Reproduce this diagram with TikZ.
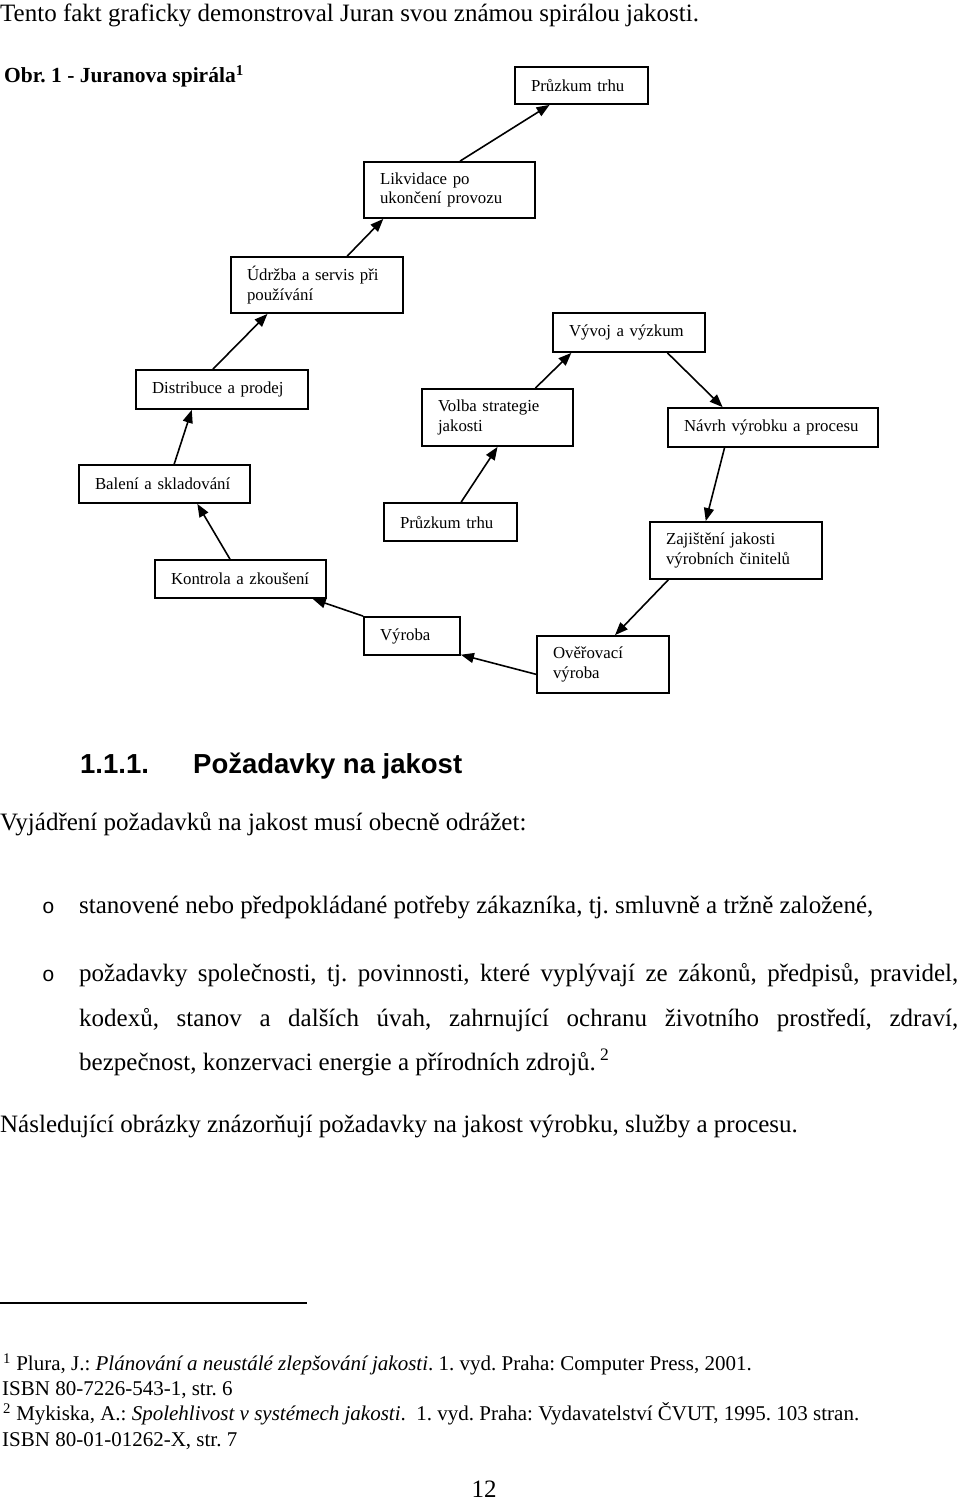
\documentclass[tikz,border=0pt]{standalone}
\usepackage{fontspec}
\setmainfont{Liberation Serif}
\newfontfamily\headfont{Liberation Sans}
\newfontfamily\bulletfont{Liberation Mono}
\usetikzlibrary{arrows.meta,calc}
\frenchspacing
\tikzset{
  box/.style={draw, line width=1.8pt, rectangle, inner xsep=16pt, inner ysep=0pt,
    align=left, font=\fontsize{16.8}{19.5}\selectfont, anchor=center},
  flow/.style={line width=1.6pt, -{Triangle[length=13pt,width=10pt]}},
  body/.style={anchor=base west, inner sep=0pt, font=\frenchspacing\fontsize{25}{30}\selectfont},
  foot/.style={anchor=base west, inner sep=0pt, font=\frenchspacing\fontsize{21}{25}\selectfont},
  bul/.style={anchor=base west, inner sep=0pt, font=\bulletfont\fontsize{21}{25}\selectfont},
}
\begin{document}
\begin{tikzpicture}[x=1pt,y=-1pt]
\useasboundingbox (0,0) rectangle (960,1503);
\fill[white] (0,0) rectangle (960,1503);

% text above diagram
\node[body] (l1) at (0,22) {Tento fakt graficky demonstroval Juran svou známou spirálou jakosti.};
\node[body, font=\frenchspacing\bfseries\fontsize{21.5}{26}\selectfont] (obr) at (4,83) {Obr. 1 - Juranova spirála\textsuperscript{1}};

% boxes
\node[box, minimum width=133pt, minimum height=37pt, text width=101pt] (pt1) at (581.5,85.5) {Průzkum trhu};
\node[box, minimum width=171pt, minimum height=56pt, text width=139pt] (lik) at (449.5,190) {Likvidace po\\ukončení provozu};
\node[box, minimum width=172pt, minimum height=56pt, text width=140pt] (udr) at (317,285) {Údržba a servis při\\používání};
\node[box, minimum width=152pt, minimum height=39pt, text width=120pt] (vyv) at (629,332.5) {Vývoj a výzkum};
\node[box, minimum width=172pt, minimum height=39pt, text width=140pt] (dis) at (222,389.5) {Distribuce a prodej};
\node[box, minimum width=151pt, minimum height=57pt, text width=119pt] (vol) at (497.5,417.5) {Volba strategie\\jakosti};
\node[box, minimum width=210pt, minimum height=39pt, text width=178pt] (nav) at (773,427.5) {Návrh výrobku a procesu};
\node[box, minimum width=171pt, minimum height=38pt, text width=139pt] (bal) at (164.5,484) {Balení a skladování};
\node[box, minimum width=133pt, minimum height=38pt, text width=101pt] (pt2) at (450.5,522) {Průzkum trhu};
\node[box, minimum width=172pt, minimum height=57pt, text width=140pt] (zaj) at (736,550.5) {Zajištění jakosti\\výrobních činitelů};
\node[box, minimum width=171pt, minimum height=38pt, text width=139pt] (kon) at (240.5,579) {Kontrola a zkoušení};
\node[box, minimum width=96pt, minimum height=38pt, text width=64pt] (vyr) at (412,636) {Výroba};
\node[box, minimum width=132pt, minimum height=57pt, text width=100pt] (ove) at (603,664.5) {Ověřovací\\výroba};

% arrows
\draw[flow] ($(pt2.north west)!0.579!(pt2.north east)$) -- ($(vol.south west)!0.5!(vol.south east)$);
\draw[flow] ($(vol.north west)!0.748!(vol.north east)$) -- ($(vyv.south west)!0.125!(vyv.south east)$);
\draw[flow] ($(vyv.south west)!0.75!(vyv.south east)$) -- ($(nav.north west)!0.262!(nav.north east)$);
\draw[flow] ($(nav.south west)!0.271!(nav.south east)$) -- ($(zaj.north west)!0.326!(zaj.north east)$);
\draw[flow] ($(zaj.south west)!0.11!(zaj.south east)$) -- ($(ove.north west)!0.59!(ove.north east)$);
\draw[flow] ($(ove.north west)!0.667!(ove.south west)$) -- ($(vyr.north east)!0.97!(vyr.south east)$);
\draw[flow] (vyr.north west) -- ($(kon.south west)!0.918!(kon.south east)$);
\draw[flow] ($(kon.north west)!0.439!(kon.north east)$) -- ($(bal.south west)!0.69!(bal.south east)$);
\draw[flow] ($(bal.north west)!0.556!(bal.north east)$) -- ($(dis.south west)!0.326!(dis.south east)$);
\draw[flow] ($(dis.north west)!0.448!(dis.north east)$) -- ($(udr.south west)!0.215!(udr.south east)$);
\draw[flow] ($(udr.north west)!0.674!(udr.north east)$) -- ($(lik.south west)!0.117!(lik.south east)$);
\draw[flow] ($(lik.north west)!0.561!(lik.north east)$) -- ($(pt1.south west)!0.263!(pt1.south east)$);

% heading
\node[anchor=base west, inner sep=0pt, font=\headfont\bfseries\fontsize{27.5}{33}\selectfont] (hnum) at (80,773) {1.1.1.};
\node[anchor=base west, inner sep=0pt, font=\headfont\bfseries\fontsize{27.5}{33}\selectfont] (htit) at (193,773) {Požadavky na jakost};

% body
\node[body] (vyj) at (0,830) {Vyjádření požadavků na jakost musí obecně odrážet:};
\node[bul] (b1) at (42,913) {o};
\node[body] (t1) at (79,913) {stanovené nebo předpokládané potřeby zákazníka, tj. smluvně a tržně založené,};
\node[bul] (b2) at (42,981) {o};
\node[body] (t2) at (79,981) {\makebox[879pt][s]{požadavky společnosti, tj. povinnosti, které vyplývají ze zákonů, předpisů, pravidel,}};
\node[body] (t3) at (79,1026) {\makebox[879pt][s]{kodexů, stanov a dalších úvah, zahrnující ochranu životního prostředí, zdraví,}};
\node[body] (t4) at (79,1070) {bezpečnost, konzervaci energie a přírodních zdrojů.\,\textsuperscript{2}};
\node[body] (nas) at (0,1132) {Následující obrázky znázorňují požadavky na jakost výrobku, služby a procesu.};

% footnote rule
\coordinate (r1) at (0,1303);
\coordinate (r2) at (307,1303);
\draw[line width=1.4pt] (r1) -- (r2);

% footnotes
\node[foot] (f1) at (3,1370.7) {\textsuperscript{1} Plura, J.: \textit{Plánování a neustálé zlepšování jakosti}. 1. vyd. Praha: Computer Press, 2001.};
\node[foot] (f2) at (2,1395.7) {ISBN 80-7226-543-1, str. 6};
\node[foot] (f3) at (3,1420.7) {\textsuperscript{2} Mykiska, A.: \textit{Spolehlivost v systémech jakosti}.\ \ 1. vyd. Praha: Vydavatelství ČVUT, 1995. 103 stran.};
\node[foot] (f4) at (2,1446.7) {ISBN 80-01-01262-X, str. 7};

% page number
\node[anchor=base, inner sep=0pt, font=\fontsize{25}{30}\selectfont] (pg) at (484,1497) {12};
\end{tikzpicture}
\end{document}
